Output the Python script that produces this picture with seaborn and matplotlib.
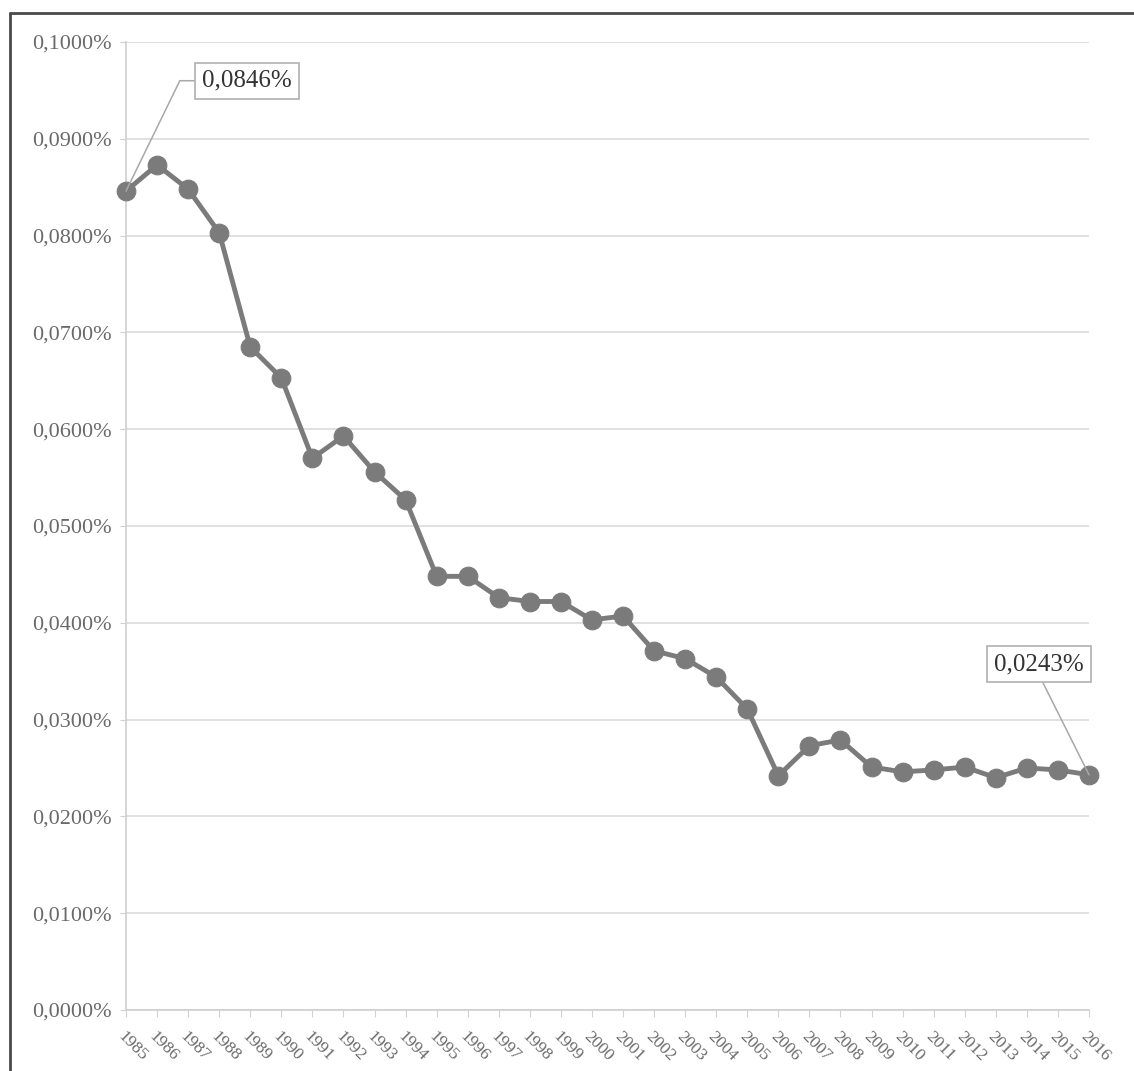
import numpy as np
import pandas as pd
import seaborn as sns
import matplotlib.pyplot as plt
from matplotlib.lines import Line2D
from matplotlib.ticker import FuncFormatter, MultipleLocator

# data (values in percent)
years = list(range(1985, 2017))
values = [0.0846, 0.0873, 0.0848, 0.0803, 0.0685, 0.0653, 0.0570, 0.0593,
          0.0556, 0.0527, 0.0448, 0.0448, 0.0426, 0.0422, 0.0422, 0.0403,
          0.0407, 0.0371, 0.0363, 0.0344, 0.0311, 0.0242, 0.0273, 0.0279,
          0.0251, 0.0246, 0.0248, 0.0251, 0.0240, 0.0250, 0.0248, 0.0243]
y_ticks = [0.0, 0.01, 0.02, 0.03, 0.04, 0.05, 0.06, 0.07, 0.08, 0.09, 0.10]

df = pd.DataFrame({"year": years, "value": values})


def pct(v):
    return f"{v:.4f}%".replace(".", ",")


sns.set_style("white")
plt.rcParams["font.family"] = ["Liberation Serif", "DejaVu Serif"]

fig = plt.figure(figsize=(11.34, 10.71), dpi=100)
ax = fig.add_axes([126 / 1134, 1 - 1010 / 1071, (1089 - 126) / 1134, (1010 - 42) / 1071])

line_col = "#7b7b7b"
sns.lineplot(data=df, x="year", y="value", ax=ax, color=line_col, linewidth=3.5,
             marker="o", markersize=13.5, markerfacecolor=line_col,
             markeredgecolor=line_col, zorder=3, clip_on=False)

ax.set_xlim(years[0], years[-1])
ax.set_ylim(y_ticks[0], y_ticks[-1])
ax.set_yticks(y_ticks)
ax.yaxis.set_major_formatter(FuncFormatter(lambda v, p: pct(v)))
ax.set_xticks(years)
ax.set_xticklabels([str(y) for y in years], rotation=-45, ha="left",
                   rotation_mode="anchor", fontsize=12.5, color="#6a6a6a")
ax.tick_params(axis="y", labelsize=16, labelcolor="#6a6a6a", length=4,
               color="#d0d0d0", left=True, pad=6)
ax.tick_params(axis="x", length=5, color="#d0d0d0", bottom=True, pad=8)
ax.set_xlabel("")
ax.set_ylabel("")

ax.grid(axis="y", color="#dadada", linewidth=1.2)
ax.grid(axis="x", visible=False)
for side in ["top", "right"]:
    ax.spines[side].set_visible(False)
for side in ["left", "bottom"]:
    ax.spines[side].set_color("#d0d0d0")
    ax.spines[side].set_linewidth(1.2)

# data labels for first and last point
box = dict(boxstyle="square,pad=0.28", fc="white", ec="#b0b0b0", lw=1.2)
ax.annotate(pct(values[0]), xy=(years[0], values[0]), xytext=(1988.9, 0.0960),
            ha="center", va="center", fontsize=18, color="#333333", bbox=box,
            arrowprops=dict(arrowstyle="-", color="#a8a8a8", lw=1.1, shrinkA=0, shrinkB=0,
                            relpos=(0, 0.5),
                            connectionstyle="angle,angleA=0,angleB=64,rad=0"),
            zorder=5)
ax.annotate(pct(values[-1]), xy=(years[-1], values[-1]), xytext=(2014.4, 0.0357),
            ha="center", va="center", fontsize=18, color="#333333", bbox=box,
            arrowprops=dict(arrowstyle="-", color="#a8a8a8", lw=1.1, shrinkA=0, shrinkB=0,
                            relpos=(0.5, 0)),
            zorder=5)

# outer chart frame (cropped at right and bottom)
fx, fy = 10 / 1134, 1 - 13 / 1071
fig.add_artist(Line2D([fx, fx], [0, fy], transform=fig.transFigure, color="#4a4a4a", lw=2))
fig.add_artist(Line2D([fx, 1], [fy, fy], transform=fig.transFigure, color="#4a4a4a", lw=2))

fig.savefig("out.png", dpi=100, facecolor="white")
